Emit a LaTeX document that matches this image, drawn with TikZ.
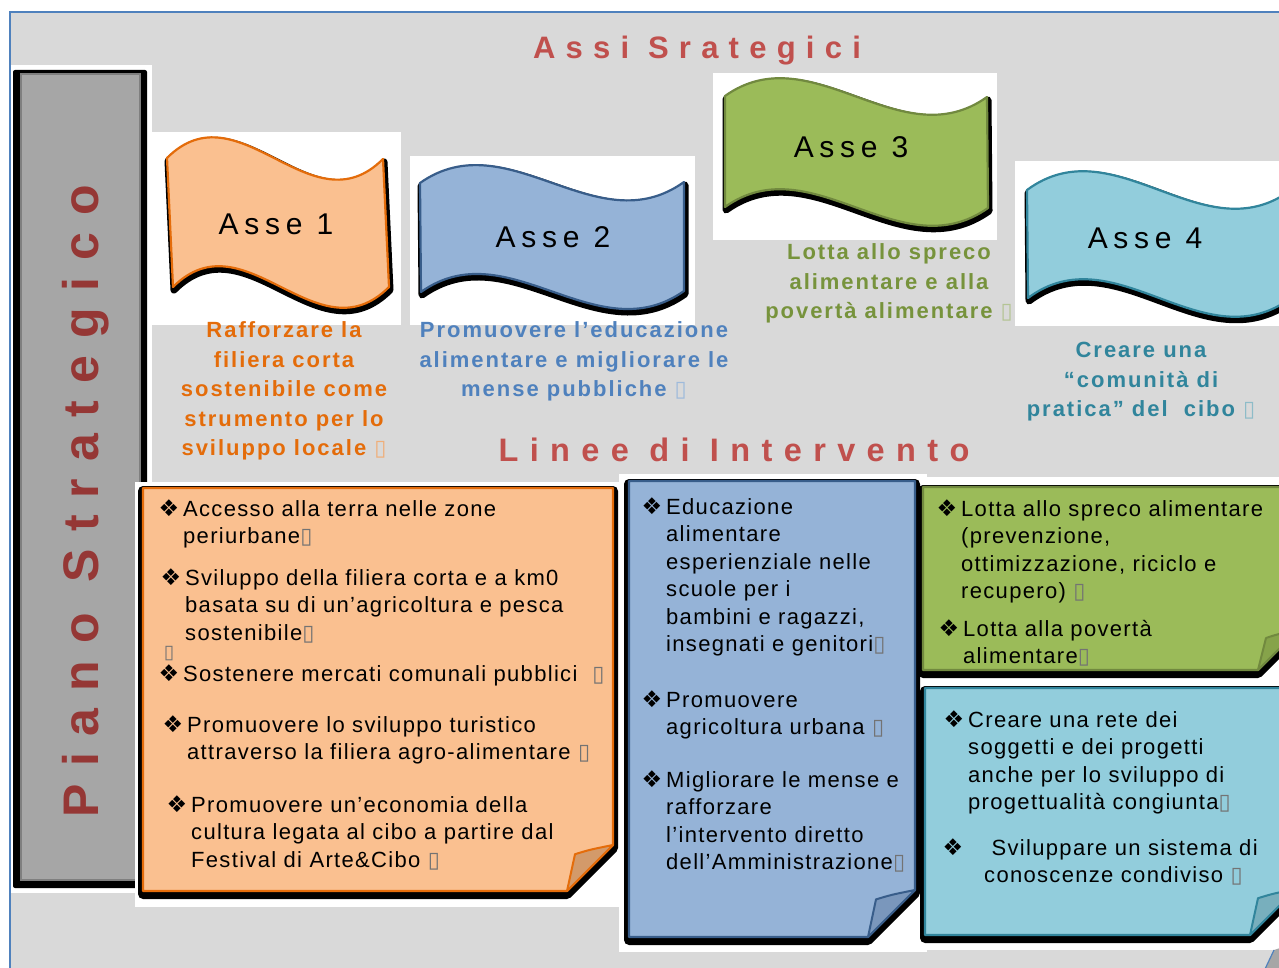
\documentclass[tikz,border=0pt]{standalone}
\usepackage{fontspec}
\setmainfont{Liberation Sans}
\newfontfamily\symfont{DejaVu Sans}
\definecolor{bggray}{HTML}{D9D9D9}
\definecolor{frameblue}{HTML}{4F81BD}
\definecolor{titlered}{HTML}{C0504D}
\definecolor{pianored}{HTML}{953735}
\definecolor{barfill}{HTML}{A6A6A6}
\definecolor{bardraw}{HTML}{7F7F7F}
\definecolor{orfill}{HTML}{FAC090}
\definecolor{ordraw}{HTML}{E46C0A}
\definecolor{orflap}{HTML}{D39A6A}
\definecolor{blfill}{HTML}{95B3D7}
\definecolor{bldraw}{HTML}{385D8A}
\definecolor{blflap}{HTML}{7A97BC}
\definecolor{grfill}{HTML}{9BBB59}
\definecolor{grdraw}{HTML}{71893F}
\definecolor{grflap}{HTML}{86A34A}
\definecolor{aqfill}{HTML}{92CDDC}
\definecolor{aqdraw}{HTML}{31859C}
\definecolor{aqflap}{HTML}{78AFBD}
\definecolor{ortext}{HTML}{E46C0A}
\definecolor{bltext}{HTML}{4F81BD}
\definecolor{grtext}{HTML}{77933C}
\definecolor{aqtext}{HTML}{31859C}
\newcommand\bodyf{\fontsize{22}{27.5}\selectfont\addfontfeature{LetterSpace=6}}
\newcommand\descf{\fontsize{22}{29.5}\selectfont\bfseries\addfontfeature{LetterSpace=9}}
\newcommand\assef{\fontsize{30}{30}\selectfont\addfontfeature{LetterSpace=19}}
\newcommand\bul{{\symfont\fontsize{23}{23}\selectfont ❖}}
\newcommand\bl[1][4pt]{\strut\llap{\bul\hspace{#1}}}
\newcommand\gb{{\symfont\color{.!55}▯}}
\newcommand\boxshape[6]{%
  \path[boxshadow] (#1,#2+3) -- (#3,#2+3) -- (#3,#4+3-#5) -- (#3-#5,#4+3) -- (#1,#4+3) -- cycle;
  \path[#6] (#1,#2) -- (#3,#2) -- (#3,#4-#5) -- (#3-#5,#4) -- (#1,#4) -- cycle;}
\newcommand\flap[4]{%
  \path[#4] (#1-#3,#2) -- (#1-#3+8,#2-0.8*#3) .. controls (#1-0.5*#3,#2-0.9*#3) .. (#1,#2-#3) -- cycle;}
\def\flagA{(167,158) .. controls (239,86) and (311,231) .. (383,159) -- (389,287) .. controls (317,359) and (245,215) .. (173,287) -- cycle}
\def\flagB{(420,183) .. controls (508,121) and (596,245) .. (684,182) -- (684,291) .. controls (596,353) and (508,230) .. (421,292) -- cycle}
\def\flagC{(725,96) .. controls (812,34) and (900,159) .. (987,97) -- (988,208) .. controls (900,270) and (812,145) .. (725,207) -- cycle}
\def\flagD{(1027,190) .. controls (1115,125) and (1203,255) .. (1291,190) -- (1291,298) .. controls (1203,363) and (1115,233) .. (1028,298) -- cycle}
\begin{document}
\begin{tikzpicture}[x=1pt,y=-1pt,
  boxshadow/.style={fill=black,draw=black,line width=10pt,line join=round},
  flagshadow/.style={fill=black,draw=black,line width=7pt,line join=round},
  whitebg/.style={fill=white},
  orshape/.style={fill=orfill,draw=ordraw,line width=2.2pt,line join=round},
  blshape/.style={fill=blfill,draw=bldraw,line width=2.2pt,line join=round},
  grshape/.style={fill=grfill,draw=grdraw,line width=2.2pt,line join=round},
  aqshape/.style={fill=aqfill,draw=aqdraw,line width=2.2pt,line join=round},
  orflapst/.style={fill=orflap,draw=ordraw,line width=2pt,line join=round},
  blflapst/.style={fill=blflap,draw=bldraw,line width=2pt,line join=round},
  grflapst/.style={fill=grflap,draw=grdraw,line width=2pt,line join=round},
  aqflapst/.style={fill=aqflap,draw=aqdraw,line width=2pt,line join=round},
  body/.style={anchor=north west,inner sep=0pt,align=left,font=\bodyf,text=black},
  desc/.style={anchor=north,inner sep=0pt,align=center,font=\descf},
  asse/.style={anchor=base,inner sep=0pt,font=\assef,text=black},
  bigtitle/.style={anchor=base,inner sep=0pt,text=titlered},
]
\path[use as bounding box] (0,0) rectangle (1279,968);
\clip (0,0) rectangle (1279,968);
\fill[white] (0,0) rectangle (1279,968);
% background
\fill[bggray] (10,12) rectangle (1280,969);
\draw[frameblue,line width=1.2pt] (10,969) -- (10,12) -- (1280,12);
% left bar
\fill[whitebg] (11,65) rectangle (152,893);
\fill[black,rounded corners=2pt] (13,70) rectangle (147,888);
\filldraw[fill=barfill,draw=bardraw,line width=2pt] (21,74) rectangle (140,880);
\node[rotate=90,anchor=base,inner sep=0pt,text=pianored,font=\fontsize{50}{50}\selectfont\bfseries\addfontfeature{LetterSpace=34}] (piano) at (98,501) {Piano Strategico};
% white backgrounds
\fill[whitebg] (152,132) rectangle (401,325);
\fill[whitebg] (410,156) rectangle (695,325);
\fill[whitebg] (713,73) rectangle (997,240);
\fill[whitebg] (1015,161) rectangle (1280,326);
\fill[whitebg] (135,482) rectangle (620,907);
\fill[whitebg] (619,474) rectangle (927,952);
\fill[whitebg] (913,477) rectangle (1280,950);
% titles
\node[bigtitle,font=\fontsize{31}{31}\selectfont\bfseries\addfontfeature{LetterSpace=33}] (assi) at (697,59) {Assi Srategici};
\node[bigtitle,font=\fontsize{32.5}{32.5}\selectfont\bfseries\addfontfeature{LetterSpace=35}] (linee) at (734,461) {Linee di Intervento};
% flags
\begin{scope}[shift={(1,3)}]
  \path[flagshadow] \flagA; \path[flagshadow] \flagB; \path[flagshadow] \flagC; \path[flagshadow] \flagD;
\end{scope}
\path[orshape] \flagA;
\path[blshape] \flagB;
\path[grshape] \flagC;
\path[aqshape] \flagD;
\node[asse] (a1t) at (276,235) {Asse 1};
\node[asse] (a2t) at (553,248) {Asse 2};
\node[asse] (a3t) at (851,158) {Asse 3};
\node[asse] (a4t) at (1145,249) {Asse 4};
% axis descriptions
\node[desc,text=ortext] (d1) at (284,317) {\strut Rafforzare la\\filiera corta\\sostenibile come\\strumento per lo\\sviluppo locale \gb};
\node[desc,text=bltext] (d2) at (574,317) {\strut Promuovere l’educazione\\alimentare e migliorare le\\mense pubbliche \gb};
\node[desc,text=grtext] (d3) at (889,239) {\strut Lotta allo spreco\\alimentare e alla\\povertà alimentare \gb};
\node[desc,text=aqtext] (d4) at (1141,337) {\strut Creare una\\“comunità di\\pratica” del\ \ cibo \gb};
% boxes
\boxshape{143}{488}{613}{891}{46}{orshape}
\flap{613}{891}{46}{orflapst}
\boxshape{629}{481}{915}{937}{47}{blshape}
\flap{915}{937}{47}{blflapst}
\boxshape{923}{487}{1298}{670}{40}{grshape}
\flap{1298}{670}{40}{grflapst}
\boxshape{925}{688}{1296}{935}{46}{aqshape}
\flap{1296}{935}{46}{aqflapst}
% stray corner at bottom right
\fill[barfill] (1265,969) -- (1274,950) -- (1280,948) -- (1280,969) -- cycle;
\draw[frameblue,line width=1.2pt] (1265,969) -- (1274,950);
% orange box text
\node[body] (o1) at (183,497) {\bl Accesso alla terra nelle zone\\periurbane\gb};
\node[body] (o2) at (185,566) {\bl Sviluppo della filiera corta e a km0\\basata su di un’agricoltura e pesca\\sostenibile\gb};
\node[inner sep=0pt,font=\fontsize{19}{19}\selectfont] (ostray) at (169,654) {\gb};
\node[body] (o3) at (183,662) {\bl Sostenere mercati comunali pubblici\ \ \gb};
\node[body] (o4) at (187,713) {\bl Promuovere lo sviluppo turistico\\attraverso la filiera agro-alimentare \gb};
\node[body] (o5) at (191,793) {\bl Promuovere un’economia della\\cultura legata al cibo a partire dal\\Festival di Arte\&Cibo \gb};
% blue box text
\node[body] (b1) at (666,495) {\bl Educazione\\alimentare\\esperienziale nelle\\scuole per i\\bambini e ragazzi,\\insegnati e genitori\gb};
\node[body] (b2) at (666,688) {\bl Promuovere\\agricoltura urbana \gb};
\node[body] (b3) at (666,768) {\bl Migliorare le mense e\\rafforzare\\l’intervento diretto\\dell’Amministrazione\gb};
% green box text
\node[body] (g1) at (961,497) {\bl Lotta allo spreco alimentare\\(prevenzione,\\ottimizzazione, riciclo e\\recupero) \gb};
\node[body] (g2) at (963,617) {\bl Lotta alla povertà\\alimentare\gb};
% light blue box text
\node[body] (l1) at (968,708) {\bl Creare una rete dei\\soggetti e dei progetti\\anche per lo sviluppo di\\progettualità congiunta\gb};
\node[body] (l2) at (984,836) {\bl[21pt] Sviluppare un sistema di\\conoscenze condiviso \gb};
\end{tikzpicture}
\end{document}
